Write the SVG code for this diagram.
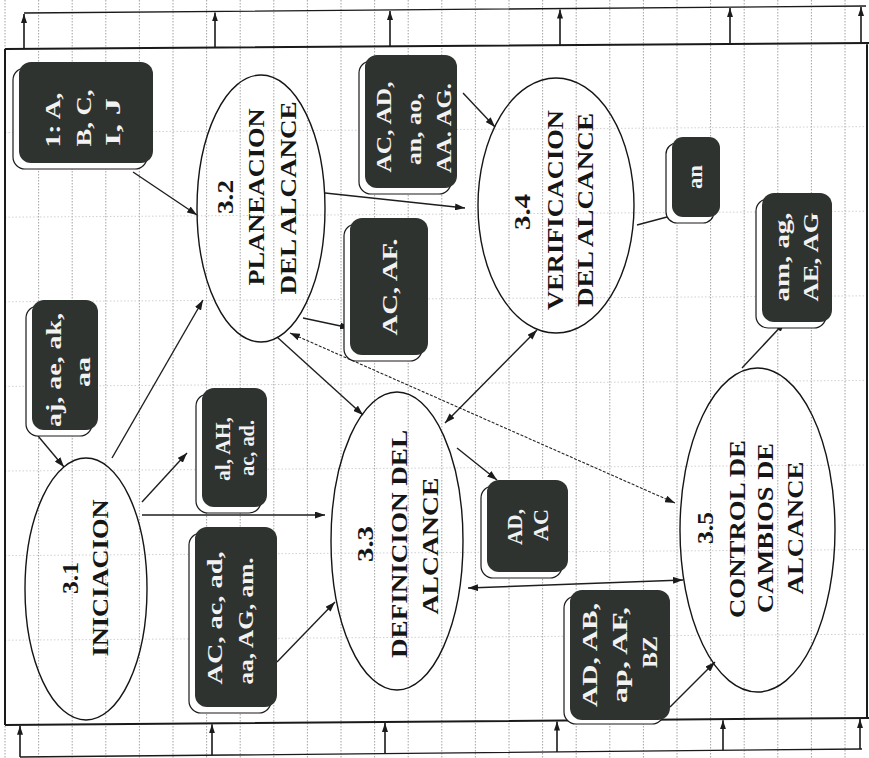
<svg xmlns="http://www.w3.org/2000/svg" width="869" height="758" viewBox="0 0 869 758">
<defs>
<marker id="ah" viewBox="0 0 10 7" refX="10" refY="3.5" markerWidth="10" markerHeight="7" markerUnits="userSpaceOnUse" orient="auto-start-reverse"><path d="M0,0L10,3.5L0,7z" fill="#1b1b1b"/></marker>
<marker id="ahb" viewBox="0 0 9 6" refX="9" refY="3" markerWidth="9" markerHeight="6" markerUnits="userSpaceOnUse" orient="auto"><path d="M0,0L9,3L0,6z" fill="#1b1b1b"/></marker>
</defs>
<style>
.gv{stroke:#8c8c8c;stroke-width:0.8;stroke-dasharray:1.5 1.5;fill:none}
.gh{stroke:#c4c4c4;stroke-width:0.8;stroke-dasharray:1.5 2;fill:none}
.frame{stroke:#1a1a1a;stroke-width:2;fill:none}
.bar{stroke:#1a1a1a;stroke-width:1.3;fill:none}
.barr{stroke:#1a1a1a;stroke-width:1.6;marker-end:url(#ahb)}
.ell{fill:none;stroke:#151515;stroke-width:1.4}
.lbl{font-family:"Liberation Serif","DejaVu Serif",serif;font-size:24px;font-weight:bold;fill:#161616;text-anchor:middle}
.box{fill:#2f332f}
.shd{fill:#ffffff;stroke:#1a1a1a;stroke-width:1.2}
.bt{font-family:"Liberation Serif","DejaVu Serif",serif;font-size:22px;font-weight:bold;fill:#f2f2f2;text-anchor:middle}
.c{stroke:#1e1e1e;stroke-width:1.4;fill:none;marker-end:url(#ah)}
.c2{stroke:#1e1e1e;stroke-width:1.4;fill:none;marker-end:url(#ah);marker-start:url(#ah)}
.cd{stroke:#262626;stroke-width:1.1;stroke-dasharray:3 1.5;fill:none;marker-end:url(#ah);marker-start:url(#ah)}
</style>
<rect width="869" height="758" fill="#ffffff"/>
<g id="grid">
<path class="gv" d="M5,0V758M38.6,0V758M72.2,0V758M105.8,0V758M139.4,0V758M173,0V758M206.6,0V758M240.2,0V758M273.8,0V758M307.4,0V758M341,0V758M374.6,0V758M408.2,0V758M441.8,0V758M475.4,0V758M509,0V758M542.6,0V758M576.2,0V758M609.8,0V758M643.4,0V758M677,0V758M710.6,0V758M744.2,0V758M777.8,0V758M811.4,0V758M845,0V758"/>
<path class="gh" d="M5,132.6L869,126.6M5,217.2L869,211.2M5,301.8L869,295.8M5,386.4L869,380.4M5,471L869,465M5,555.6L869,549.6M5,640.2L869,634.2"/>
</g>
<g id="frame">
<path class="frame" d="M5,49L869,43M5,49V725M5,725L869,718M867,43V718"/>
<path class="bar" d="M24,13L866,6M20,757L862,749"/>
<line class="barr" x1="24" y1="48.8" x2="24" y2="14"/>
<line class="barr" x1="215" y1="47.5" x2="215" y2="12.4"/>
<line class="barr" x1="390" y1="46.3" x2="390" y2="11"/>
<line class="barr" x1="560" y1="45.1" x2="560" y2="9.5"/>
<line class="barr" x1="730" y1="43.9" x2="730" y2="8.1"/>
<line class="barr" x1="861" y1="43" x2="861" y2="7"/>
<line class="barr" x1="20" y1="757" x2="20" y2="725.8"/>
<line class="barr" x1="212" y1="755.2" x2="212" y2="724.3"/>
<line class="barr" x1="385" y1="753.5" x2="385" y2="722.9"/>
<line class="barr" x1="557" y1="751.9" x2="557" y2="721.5"/>
<line class="barr" x1="723" y1="750.3" x2="723" y2="720.2"/>
<line class="barr" x1="860" y1="749" x2="860" y2="719.1"/>
</g>
<g id="connectors">
<line class="c" x1="133" y1="172" x2="197" y2="215"/>
<line class="c" x1="38" y1="436" x2="64" y2="467"/>
<line class="c" x1="112" y1="458" x2="203" y2="300"/>
<line class="c" x1="142" y1="502" x2="187" y2="453"/>
<line class="c" x1="142" y1="515" x2="325" y2="515"/>
<line class="c" x1="277" y1="662" x2="335" y2="602"/>
<line class="c" x1="277" y1="337" x2="363" y2="415"/>
<line class="c" x1="303" y1="318" x2="350" y2="328"/>
<line class="cd" x1="290" y1="333" x2="675" y2="503"/>
<line class="c" x1="325" y1="193" x2="465" y2="208"/>
<line class="c" x1="463" y1="93" x2="495" y2="127"/>
<line class="c2" x1="537" y1="330" x2="445" y2="423"/>
<line class="c" x1="637" y1="225" x2="682" y2="213"/>
<line class="c" x1="742" y1="368" x2="785" y2="322"/>
<line class="c" x1="457" y1="448" x2="497" y2="480"/>
<line class="c" x1="670" y1="707" x2="715" y2="662"/>
<line class="c2" x1="468" y1="588" x2="683" y2="580"/>
</g>
<g id="n31">
<ellipse class="ell" cx="86" cy="589" rx="61" ry="131"/>
<text class="lbl" transform="translate(78,578) rotate(-90)" textLength="32" lengthAdjust="spacingAndGlyphs">3.1</text>
<text class="lbl" transform="translate(108,578) rotate(-90)" textLength="157" lengthAdjust="spacingAndGlyphs">INICIACION</text>
</g>
<g id="n32">
<ellipse class="ell" cx="261" cy="208.5" rx="64" ry="133.5"/>
<text class="lbl" transform="translate(233,197) rotate(-90)" textLength="34" lengthAdjust="spacingAndGlyphs">3.2</text>
<text class="lbl" transform="translate(264,197) rotate(-90)" textLength="177" lengthAdjust="spacingAndGlyphs">PLANEACION</text>
<text class="lbl" transform="translate(296,198) rotate(-90)" textLength="193" lengthAdjust="spacingAndGlyphs">DEL ALCANCE</text>
</g>
<g id="n33">
<ellipse class="ell" cx="397" cy="541" rx="66" ry="149"/>
<text class="lbl" transform="translate(373,544) rotate(-90)" textLength="36" lengthAdjust="spacingAndGlyphs">3.3</text>
<text class="lbl" transform="translate(407,544) rotate(-90)" textLength="228" lengthAdjust="spacingAndGlyphs">DEFINICION DEL</text>
<text class="lbl" transform="translate(438,546) rotate(-90)" textLength="137" lengthAdjust="spacingAndGlyphs">ALCANCE</text>
</g>
<g id="n34">
<ellipse class="ell" cx="556" cy="205.5" rx="78" ry="127.5"/>
<text class="lbl" transform="translate(530,212) rotate(-90)" textLength="36" lengthAdjust="spacingAndGlyphs">3.4</text>
<text class="lbl" transform="translate(563,210) rotate(-90)" textLength="200" lengthAdjust="spacingAndGlyphs">VERIFICACION</text>
<text class="lbl" transform="translate(593,210) rotate(-90)" textLength="194" lengthAdjust="spacingAndGlyphs">DEL ALCANCE</text>
</g>
<g id="n35">
<ellipse class="ell" cx="757.5" cy="530" rx="77.5" ry="162"/>
<text class="lbl" transform="translate(713,528) rotate(-90)" textLength="32" lengthAdjust="spacingAndGlyphs">3.5</text>
<text class="lbl" transform="translate(745,529) rotate(-90)" textLength="178" lengthAdjust="spacingAndGlyphs">CONTROL DE</text>
<text class="lbl" transform="translate(773,528) rotate(-90)" textLength="170" lengthAdjust="spacingAndGlyphs">CAMBIOS DE</text>
<text class="lbl" transform="translate(803,528) rotate(-90)" textLength="133" lengthAdjust="spacingAndGlyphs">ALCANCE</text>
</g>
<g id="b1">
<rect class="shd" x="13" y="68" width="134" height="101" rx="12"/>
<rect class="box" x="19" y="62" width="134" height="101" rx="12"/>
<text class="bt" transform="translate(60,120) rotate(-90)" textLength="55" lengthAdjust="spacingAndGlyphs">1: A,</text>
<text class="bt" transform="translate(91,118) rotate(-90)" textLength="57" lengthAdjust="spacingAndGlyphs">B, C,</text>
<text class="bt" transform="translate(120,122) rotate(-90)" textLength="48" lengthAdjust="spacingAndGlyphs">I, J</text>
</g>
<g id="b2">
<rect class="shd" x="26" y="306" width="66" height="130" rx="12"/>
<rect class="box" x="32" y="300" width="66" height="130" rx="12"/>
<text class="bt" transform="translate(61,370) rotate(-90)" textLength="114" lengthAdjust="spacingAndGlyphs">aj, ae, ak,</text>
<text class="bt" transform="translate(90,372) rotate(-90)" textLength="30" lengthAdjust="spacingAndGlyphs">aa</text>
</g>
<g id="b3">
<rect class="shd" x="196" y="394" width="65" height="119" rx="12"/>
<rect class="box" x="202" y="388" width="65" height="119" rx="12"/>
<text class="bt" transform="translate(230,449) rotate(-90)" textLength="64" lengthAdjust="spacingAndGlyphs">al, AH,</text>
<text class="bt" transform="translate(254,448) rotate(-90)" textLength="56" lengthAdjust="spacingAndGlyphs">ac, ad.</text>
</g>
<g id="b4">
<rect class="shd" x="189" y="533" width="82" height="180" rx="12"/>
<rect class="box" x="195" y="527" width="82" height="180" rx="12"/>
<text class="bt" transform="translate(222,618) rotate(-90)" textLength="133" lengthAdjust="spacingAndGlyphs">AC, ac, ad,</text>
<text class="bt" transform="translate(253,621) rotate(-90)" textLength="127" lengthAdjust="spacingAndGlyphs">aa, AG, am.</text>
</g>
<g id="b5">
<rect class="shd" x="359" y="61" width="92" height="133" rx="12"/>
<rect class="box" x="365" y="55" width="92" height="133" rx="12"/>
<text class="bt" transform="translate(391,127) rotate(-90)" textLength="91" lengthAdjust="spacingAndGlyphs">AC, AD,</text>
<text class="bt" transform="translate(421,129) rotate(-90)" textLength="72" lengthAdjust="spacingAndGlyphs">an, ao,</text>
<text class="bt" transform="translate(451,128) rotate(-90)" textLength="90" lengthAdjust="spacingAndGlyphs">AA. AG.</text>
</g>
<g id="b6">
<rect class="shd" x="344" y="224" width="78" height="137" rx="12"/>
<rect class="box" x="350" y="218" width="78" height="137" rx="12"/>
<text class="bt" transform="translate(397,287) rotate(-90)" textLength="97" lengthAdjust="spacingAndGlyphs">AC, AF.</text>
</g>
<g id="b7">
<rect class="shd" x="666" y="143" width="48" height="80" rx="11"/>
<rect class="box" x="672" y="137" width="48" height="80" rx="11"/>
<text class="bt" transform="translate(702,177) rotate(-90)" textLength="24" lengthAdjust="spacingAndGlyphs">an</text>
</g>
<g id="b8">
<rect class="shd" x="756" y="199" width="70" height="129" rx="12"/>
<rect class="box" x="762" y="193" width="70" height="129" rx="12"/>
<text class="bt" transform="translate(789,257) rotate(-90)" textLength="89" lengthAdjust="spacingAndGlyphs">am, ag,</text>
<text class="bt" transform="translate(818,257) rotate(-90)" textLength="89" lengthAdjust="spacingAndGlyphs">AE, AG</text>
</g>
<g id="b9">
<rect class="shd" x="481" y="486" width="81" height="92" rx="12"/>
<rect class="box" x="487" y="480" width="81" height="92" rx="12"/>
<text class="bt" transform="translate(522,527) rotate(-90)" textLength="36" lengthAdjust="spacingAndGlyphs">AD,</text>
<text class="bt" transform="translate(548,525) rotate(-90)" textLength="32" lengthAdjust="spacingAndGlyphs">AC</text>
</g>
<g id="b10">
<rect class="shd" x="564" y="596" width="100" height="128" rx="12"/>
<rect class="box" x="570" y="590" width="100" height="130" rx="12"/>
<text class="bt" transform="translate(597,655) rotate(-90)" textLength="104" lengthAdjust="spacingAndGlyphs">AD, AB,</text>
<text class="bt" transform="translate(627,655) rotate(-90)" textLength="96" lengthAdjust="spacingAndGlyphs">ap, AF,</text>
<text class="bt" transform="translate(657,652) rotate(-90)" textLength="32" lengthAdjust="spacingAndGlyphs">BZ</text>
</g>
</svg>
